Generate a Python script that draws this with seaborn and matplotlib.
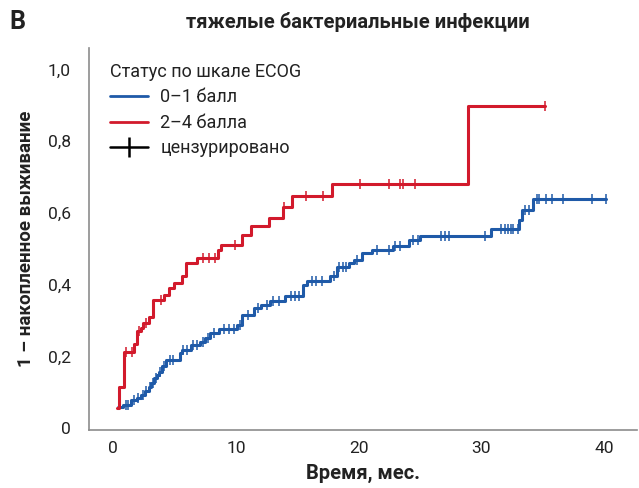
import numpy as np
import pandas as pd
import matplotlib
matplotlib.use("Agg")
import matplotlib.pyplot as plt
from matplotlib.lines import Line2D
import seaborn as sns

# ---- data ----
red_t = [0.27, 0.5, 0.85, 1.7, 1.9, 2.25, 2.4, 2.87, 3.2, 4.15, 4.55, 4.96, 5.6, 5.96,
         6.86, 8.5, 8.8, 10.5, 11.2, 12.7, 13.8, 14.6, 17.8, 28.9, 35.2]
red_y = [0.055, 0.115, 0.213, 0.235, 0.27, 0.278, 0.292, 0.311, 0.357, 0.371, 0.39, 0.404,
         0.423, 0.46, 0.474, 0.497, 0.511, 0.539, 0.562, 0.586, 0.615, 0.646, 0.68, 0.899, 0.899]
red_cens = [1.0, 1.5, 2.1, 2.7, 3.9, 7.3, 7.8, 8.3, 9.9, 13.9, 15.7, 17.1, 20.1, 22.5,
            23.4, 23.6, 24.6, 35.2]

blue_t = [0.35, 0.8, 1.4, 1.9, 2.25, 2.6, 2.9, 3.1, 3.33, 3.55, 3.74, 4.0, 4.28, 5.4, 5.6,
          6.3, 7.1, 7.5, 7.9, 8.6, 10.1, 10.5, 11.5, 12.0, 12.8, 14.0, 15.5, 15.8, 17.7,
          18.2, 19.2, 19.6, 20.3, 21.1, 22.8, 24.1, 25.0, 30.8, 33.1, 33.3, 34.2, 40.2]
blue_y = [0.06, 0.065, 0.078, 0.085, 0.092, 0.103, 0.115, 0.127, 0.139, 0.148, 0.157, 0.172,
          0.19, 0.209, 0.218, 0.232, 0.241, 0.25, 0.264, 0.276, 0.288, 0.316, 0.334, 0.344,
          0.353, 0.367, 0.4, 0.409, 0.423, 0.45, 0.46, 0.469, 0.488, 0.497, 0.508, 0.525,
          0.536, 0.555, 0.58, 0.607, 0.639, 0.639]
blue_cens = [1.0, 1.2, 1.7, 2.0, 2.4, 2.7, 3.0, 3.2, 3.5, 3.8, 4.1, 4.6, 4.9, 5.7, 6.0, 6.5,
             6.8, 7.3, 7.7, 8.2, 9.0, 9.4, 9.8, 10.3, 11.0, 11.8, 12.5, 13.0, 13.5, 14.5,
             14.8, 15.1, 16.2, 16.5, 17.0, 18.0, 18.4, 18.7, 19.0, 19.9, 21.5, 22.5, 23.0,
             23.4, 24.4, 24.8, 26.7, 27.0, 27.4, 30.3, 31.6, 31.9, 32.2, 32.4, 32.6, 33.0,
             33.6, 33.9, 34.5, 34.7, 35.3, 35.8, 36.7, 39.0, 40.2]

x_ticks = [0, 10, 20, 30, 40]
y_ticks = [0, 0.2, 0.4, 0.6, 0.8, 1.0]
y_tick_labels = ["0", "0,2", "0,4", "0,6", "0,8", "1,0"]

group_labels = ["0–1 балл", "2–4 балла"]
cens_label = "цензурировано"
legend_title = "Статус по шкале ECOG"
title = "тяжелые бактериальные инфекции"
xlabel = "Время, мес."
ylabel = "1 – накопленное выживание"
panel = "В"

BLUE = "#1f5aa8"
RED = "#d21a2c"

sns.set_theme(style="white")
plt.rcParams["font.family"] = ["Roboto", "DejaVu Sans"]

fig = plt.figure(figsize=(6.39, 4.88), dpi=100)
ax = fig.add_axes([0.139, 0.119, 0.858, 0.783])


def step_val(t, ts, ys):
    i = np.searchsorted(np.array(ts), t, side="right") - 1
    i = max(i, 0)
    return ys[i]


for ts, ys, cens, col in [(blue_t, blue_y, blue_cens, BLUE), (red_t, red_y, red_cens, RED)]:
    df = pd.DataFrame({"t": ts, "y": ys})
    sns.lineplot(data=df, x="t", y="y", drawstyle="steps-post", color=col, lw=2.2,
                 ax=ax, estimator=None, sort=False)
    cdf = pd.DataFrame({"t": cens, "y": [step_val(c, ts, ys) for c in cens]})
    sns.scatterplot(data=cdf, x="t", y="y", marker="|", s=60, linewidth=1.1,
                    color=col, ax=ax, zorder=3)

ax.set_xlim(-2, 42.7)
ax.set_ylim(-0.005, 1.06)
ax.set_xticks(x_ticks)
ax.set_xticklabels([str(v) for v in x_ticks])
ax.set_yticks(y_ticks)
ax.set_yticklabels(y_tick_labels)
ax.tick_params(axis="both", length=0, labelsize=12.5, colors="#222222")
ax.tick_params(axis="y", pad=13)
ax.tick_params(axis="x", pad=8)

for s in ["top", "right"]:
    ax.spines[s].set_visible(False)
for s in ["left", "bottom"]:
    ax.spines[s].set_color("#8c8c8c")
    ax.spines[s].set_linewidth(1.2)

ax.set_xlabel(xlabel, fontsize=14.5, fontweight="bold", color="#222222", labelpad=6)
ax.set_ylabel(ylabel, fontsize=13.5, fontweight="bold", color="#222222", labelpad=9)
ax.set_title(title, fontsize=14.5, fontweight="bold", color="#222222", pad=14, x=0.49)
fig.text(0.014, 0.955, panel, fontsize=18, fontweight="bold", color="#222222",
         va="center", ha="left")

handles = [Line2D([], [], color=BLUE, lw=2.0),
           Line2D([], [], color=RED, lw=2.0),
           Line2D([], [], color="black", lw=1.8, marker="|", markersize=14,
                  markeredgewidth=1.8)]
leg = ax.legend(handles, group_labels + [cens_label], title=legend_title,
                loc="upper left", bbox_to_anchor=(0.025, 0.98), frameon=False,
                fontsize=13, title_fontsize=13, handlelength=2.1,
                handletextpad=0.7, labelspacing=0.42, alignment="left",
                borderaxespad=0)
for t in leg.get_texts():
    t.set_color("#222222")
leg.get_title().set_color("#222222")

fig.savefig("out.png", dpi=100)
